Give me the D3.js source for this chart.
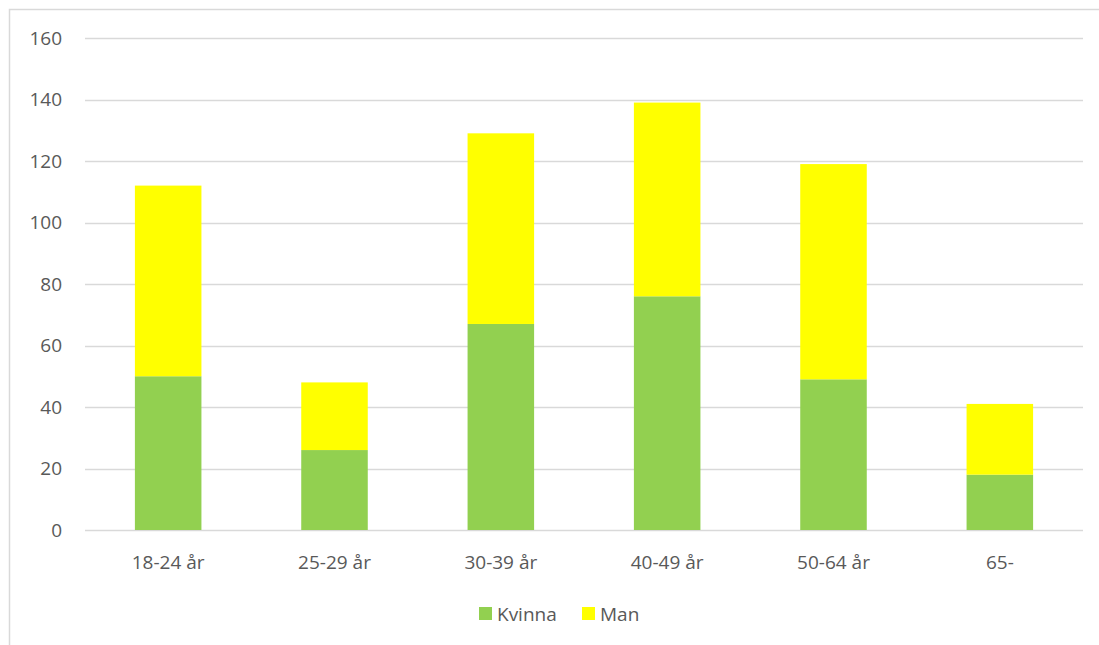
<!DOCTYPE html>
<html>
<head>
<meta charset="utf-8">
<script src="https://cdn.jsdelivr.net/npm/d3@7"></script>
<style>
  body { margin: 0; background: #fff; }
  text { font-family: "Open Sans", sans-serif; fill: #595959; }
</style>
</head>
<body>
<div id="canvas"></div>
<script>
// --- data
var categories = ['18-24 år', '25-29 år', '30-39 år', '40-49 år', '50-64 år', '65-'];
var kvinna = [50, 26, 67, 76, 49, 18];
var man = [62, 22, 62, 63, 70, 23];
var seriesNames = ['Kvinna', 'Man'];
var yTicks = [0, 20, 40, 60, 80, 100, 120, 140, 160];

var W = 1099, H = 645;
var M = {top: 38, right: 16, bottom: 115, left: 85};
var w = W - M.left - M.right,
    h = H - M.top - M.bottom;

var colors = {Kvinna: '#92D050', Man: '#FFFF00'};
var fs = '19px';

var svg = d3.select('#canvas')
  .append('svg')
  .attr('width', W)
  .attr('height', H);

// outer frame
svg.append('rect')
  .attr('x', 9.5).attr('y', 9.5)
  .attr('width', W + 10).attr('height', H + 10)
  .attr('fill', 'none')
  .attr('stroke', '#d9d9d9')
  .attr('stroke-width', 1.5);

var plot = svg.append('g')
  .attr('transform', 'translate(' + M.left + ',' + M.top + ')');

var x = d3.scaleBand()
  .domain(categories)
  .range([0, w])
  .paddingInner(0.6)
  .paddingOuter(0.3);

var y = d3.scaleLinear()
  .domain([0, 160])
  .range([h, 0]);

// gridlines
plot.selectAll('.grid')
  .data(yTicks)
  .enter().append('line')
  .attr('x1', 0).attr('x2', w)
  .attr('y1', function(d){ return Math.round(y(d)) + 0.5; })
  .attr('y2', function(d){ return Math.round(y(d)) + 0.5; })
  .attr('stroke', '#d9d9d9')
  .attr('stroke-width', 1.5);

// y labels
plot.selectAll('.ylab')
  .data(yTicks)
  .enter().append('text')
  .attr('x', -23)
  .attr('y', function(d){ return y(d); })
  .attr('dy', '0.35em')
  .attr('text-anchor', 'end')
  .style('font-size', fs)
  .text(function(d){ return d; });

// stacked bars
var rows = categories.map(function(c, i){
  return {cat: c, Kvinna: kvinna[i], Man: man[i]};
});
var stack = d3.stack().keys(seriesNames)(rows);

plot.selectAll('.series')
  .data(stack)
  .enter().append('g')
  .attr('fill', function(d){ return colors[d.key]; })
  .selectAll('rect')
  .data(function(d){ return d; })
  .enter().append('rect')
  .attr('x', function(d){ return x(d.data.cat); })
  .attr('width', x.bandwidth())
  .attr('y', function(d){ return y(d[1]); })
  .attr('height', function(d){ return y(d[0]) - y(d[1]); });

// x labels
plot.selectAll('.xlab')
  .data(categories)
  .enter().append('text')
  .attr('x', function(d){ return x(d) + x.bandwidth() / 2; })
  .attr('y', h + 39)
  .attr('text-anchor', 'middle')
  .style('font-size', fs)
  .text(function(d){ return d; });

// legend
var legend = svg.append('g').attr('transform', 'translate(479,607)');
var lx = [0, 103];
seriesNames.forEach(function(s, i){
  legend.append('rect')
    .attr('x', lx[i]).attr('y', 0)
    .attr('width', 13).attr('height', 13)
    .attr('fill', colors[s]);
  legend.append('text')
    .attr('x', lx[i] + 18).attr('y', 7)
    .attr('dy', '0.35em')
    .style('font-size', fs)
    .text(s);
});
</script>
</body>
</html>
